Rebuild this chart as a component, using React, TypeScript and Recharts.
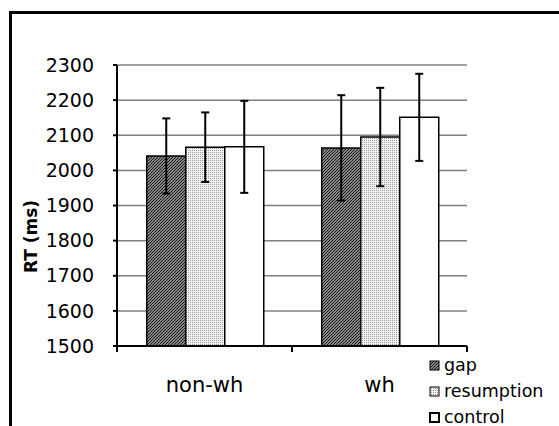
import React from 'react';
import { BarChart, Bar, XAxis, YAxis, CartesianGrid, ErrorBar, Legend } from 'recharts';

const categories = ['non-wh', 'wh'];
const seriesNames = ['gap', 'resumption', 'control'];
const gapValues = [2041, 2064];
const gapErrors = [107, 150];
const resumptionValues = [2066, 2095];
const resumptionErrors = [99, 140];
const controlValues = [2067, 2151];
const controlErrors = [131, 124];
const yTicks = [1500, 1600, 1700, 1800, 1900, 2000, 2100, 2200, 2300];
const yDomain = [1500, 2300];

const data = categories.map((c, i) => ({
  category: c,
  gap: gapValues[i],
  gapErr: gapErrors[i],
  resumption: resumptionValues[i],
  resumptionErr: resumptionErrors[i],
  control: controlValues[i],
  controlErr: controlErrors[i],
}));

const FONT = '"DejaVu Sans", Verdana, sans-serif';
const X_TICK_SIZE = 6;
const X_TICK_MARGIN = 25;

const fills: Record<string, string> = {
  gap: 'url(#gapPattern)',
  resumption: 'url(#resPattern)',
  control: '#ffffff',
};

const CategoryTick = (props: any) => {
  const { x, y, payload, index, visibleTicksCount, width } = props;
  let band = Number(width) / Number(visibleTicksCount);
  if (!Number.isFinite(band)) band = 0;
  const axisY = y - X_TICK_SIZE - X_TICK_MARGIN;
  return (
    <g>
      <line x1={x - band / 2} x2={x - band / 2} y1={axisY} y2={axisY + X_TICK_SIZE} stroke="#000" strokeWidth={2} />
      {index === visibleTicksCount - 1 && (
        <line x1={x + band / 2} x2={x + band / 2} y1={axisY} y2={axisY + X_TICK_SIZE} stroke="#000" strokeWidth={2} />
      )}
      <text x={x} y={y} dy="0.71em" textAnchor="middle" fontSize={21} fill="#000" fontFamily={FONT}>
        {payload.value}
      </text>
    </g>
  );
};

const YLabel = (props: any) => {
  const vb = props.viewBox || { x: 0, y: 0, width: 0, height: 0 };
  const cx = vb.x + 31;
  const cy = vb.y + vb.height / 2 + 31;
  return (
    <text
      x={cx}
      y={cy}
      transform={`rotate(-90, ${cx}, ${cy})`}
      textAnchor="middle"
      dominantBaseline="central"
      fontWeight="bold"
      fontSize={17}
      fill="#000"
      fontFamily={FONT}
    >
      RT (ms)
    </text>
  );
};

const LegendContent = (props: any) => {
  const payload = [...(props.payload || [])].sort(
    (a: any, b: any) => seriesNames.indexOf(a.value) - seriesNames.indexOf(b.value)
  );
  return (
    <div style={{ fontFamily: FONT, fontSize: 17.5, color: '#000' }}>
      {payload.map((entry: any) => (
        <div key={entry.value} style={{ display: 'flex', alignItems: 'center', height: 26, lineHeight: '26px', whiteSpace: 'nowrap' }}>
          <svg width={11} height={11} style={{ marginRight: 4, display: 'block' }}>
            <rect x={1} y={1} width={9} height={9} fill={fills[entry.value]} stroke="#000" strokeWidth={entry.value === 'control' ? 2 : 1} />
          </svg>
          <span>{entry.value}</span>
        </div>
      ))}
    </div>
  );
};

export default function App() {
  return (
    <div style={{ position: 'fixed', left: 0, top: 0, width: 559, height: 426, overflow: 'hidden', background: '#fff' }}>
      <div
        style={{
          position: 'absolute',
          left: 9,
          top: 11,
          width: 600,
          height: 500,
          borderTop: '3px solid #000',
          borderLeft: '3px solid #000',
        }}
      />
      <div style={{ position: 'absolute', left: 0, top: 0 }}>
        <BarChart
          width={559}
          height={426}
          data={data}
          margin={{ top: 65, right: 92, bottom: 40, left: 0 }}
          barCategoryGap="17%"
          barGap={0}
          style={{ fontFamily: FONT }}
        >
          <defs>
            <pattern id="gapPattern" patternUnits="userSpaceOnUse" width={3} height={3}>
              <rect x={0} y={0} width={3} height={3} fill="#ffffff" />
              <path d="M0,3 L3,0 M-1,1 L1,-1 M2,4 L4,2" stroke="#1a1a1a" strokeWidth={1.5} />
            </pattern>
            <pattern id="resPattern" patternUnits="userSpaceOnUse" width={2} height={2}>
              <rect x={0} y={0} width={2} height={2} fill="#f2f2f2" />
              <rect x={0} y={0} width={1} height={1} fill="#9a9a9a" />
            </pattern>
          </defs>
          <CartesianGrid vertical={false} stroke="#808080" strokeWidth={1.5} />
          <XAxis
            dataKey="category"
            height={40}
            tickSize={X_TICK_SIZE}
            tickMargin={X_TICK_MARGIN}
            tickLine={false}
            axisLine={{ stroke: '#000', strokeWidth: 2 }}
            tick={<CategoryTick />}
          />
          <YAxis
            width={117}
            domain={yDomain}
            ticks={yTicks}
            interval={0}
            tickSize={4}
            tickMargin={19}
            axisLine={{ stroke: '#000', strokeWidth: 2 }}
            tickLine={{ stroke: '#000', strokeWidth: 2 }}
            tick={{ fontSize: 19, fill: '#000', fontFamily: FONT }}
            label={<YLabel />}
          />
          <YAxis
            yAxisId="right"
            orientation="right"
            width={0}
            domain={yDomain}
            tick={false}
            tickLine={false}
            axisLine={{ stroke: '#808080', strokeWidth: 1.5 }}
          />
          <Legend
            layout="vertical"
            align="center"
            verticalAlign="middle"
            itemSorter={null as any}
            wrapperStyle={{ left: 429, top: 352, width: 'auto', height: 'auto' }}
            content={<LegendContent />}
          />
          {seriesNames.map((name) => (
            <Bar
              key={name}
              dataKey={name}
              name={name}
              fill={fills[name]}
              stroke="#000"
              strokeWidth={1.5}
              isAnimationActive={false}
            >
              <ErrorBar dataKey={`${name}Err`} width={4} strokeWidth={2} stroke="#000" direction="y" isAnimationActive={false} />
            </Bar>
          ))}
        </BarChart>
      </div>
    </div>
  );
}
